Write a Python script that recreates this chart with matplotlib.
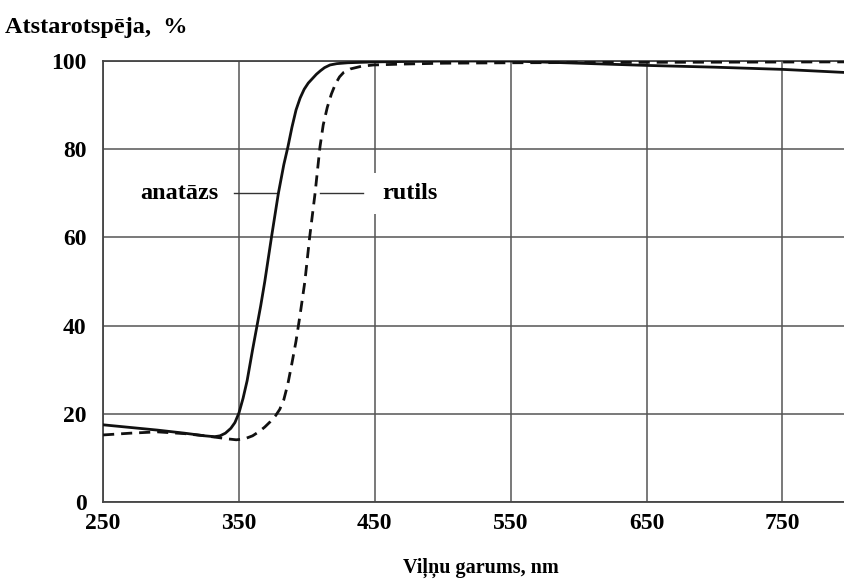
import matplotlib
matplotlib.use("Agg")
import matplotlib.pyplot as plt

plt.rcParams['font.family'] = ['Liberation Serif', 'DejaVu Serif']
plt.rcParams['font.weight'] = 'bold'

# anatase (solid) reflectance
anatase_nm = [250, 270, 290, 310, 325, 332, 336, 340, 344, 347, 350, 353, 356,
              360, 363, 366, 369, 374, 379, 383, 386, 389, 392, 395, 398, 401,
              404, 407, 410, 413, 417, 422, 430, 450, 500, 550, 600, 650, 700,
              750, 796]
anatase_r = [17.5, 16.9, 16.3, 15.6, 15.0, 14.8, 15.0, 15.6, 16.7, 18.0, 20.2,
             23.5, 27.5, 34.5, 39.5, 44.5, 50.0, 60.2, 70.0, 76.5, 80.5, 85.0,
             88.9, 91.6, 93.6, 95.0, 96.0, 97.0, 97.8, 98.5, 99.1, 99.4, 99.6,
             99.8, 100.0, 100.0, 99.5, 99.0, 98.6, 98.1, 97.4]

# rutile (dashed)
rutile_nm = [250, 270, 290, 310, 325, 335, 342, 348, 354, 360, 365, 369, 373,
             377, 380, 383, 386, 389, 392, 395, 398.5, 402, 406, 409.6, 412,
             415, 418, 421, 424, 427, 432, 440, 449, 470, 500, 550, 650, 796]
rutile_r = [15.2, 15.6, 15.9, 15.5, 15.0, 14.6, 14.3, 14.1, 14.3, 15.0, 16.0,
            17.0, 18.2, 19.6, 21.0, 23.2, 26.8, 31.5, 36.5, 42.5, 50.0, 60.0,
            70.0, 80.5, 85.5, 89.5, 92.5, 94.8, 96.4, 97.4, 98.2, 98.8, 99.1,
            99.3, 99.5, 99.6, 99.7, 99.8]

x_ticks = [250, 350, 450, 550, 650, 750]
y_ticks = [0, 20, 40, 60, 80, 100]

fig = plt.figure(figsize=(8.45, 5.81), dpi=100)
ax = fig.add_axes([0.122, 0.136, 0.878, 0.759])

ax.plot(anatase_nm, anatase_r, color='#111111', lw=2.0, zorder=4)
ax.plot(rutile_nm, rutile_r, color='#111111', lw=2.0, ls=(0, (4, 2.5)), zorder=4)

ax.set_xlim(250, 796)
ax.set_ylim(0, 100)
ax.set_xticks(x_ticks)
ax.set_yticks(y_ticks)
ax.tick_params(length=0, labelsize=17)
ax.tick_params(axis='x', pad=8)
ax.tick_params(axis='y', pad=12)
ax.grid(True, color='#555555', lw=1.1)
ax.set_axisbelow(True)
for s in ['left', 'bottom', 'top']:
    ax.spines[s].set_color('#444444')
    ax.spines[s].set_linewidth(1.3)
ax.spines['right'].set_visible(False)

# labels with their leader lines
box = dict(boxstyle='square,pad=0.4', fc='white', ec='none')
ax.text(306, 70, 'anatāzs', fontsize=17.5, ha='center', va='center', bbox=box, zorder=3)
ax.plot([346, 379], [70, 70], color='#333333', lw=1.0, zorder=3)
ax.text(476, 70, 'rutils', fontsize=17.5, ha='center', va='center', bbox=box, zorder=3)
ax.plot([409.5, 441], [70, 70], color='#333333', lw=1.0, zorder=3)

fig.text(0.006, 0.943, 'Atstarotspēja,  %', fontsize=17.5, ha='left', va='baseline')
fig.text(0.569, 0.014, 'Viļņu garums, nm', fontsize=14.5, ha='center', va='baseline')

fig.savefig('out.png', dpi=100)
